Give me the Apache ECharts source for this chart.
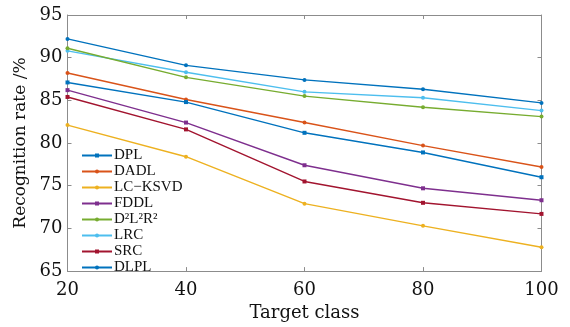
<!DOCTYPE html>
<html><head><meta charset="utf-8">
<script src="https://cdn.jsdelivr.net/npm/echarts@6/dist/echarts.min.js"></script>
<style>html,body{margin:0;padding:0;background:#fff}#c{width:570px;height:327px}</style>
</head><body><div id="c"></div>
<script>
const categories = [20, 40, 60, 80, 100];
const seriesNames = ['DPL', 'DADL', 'LC\u2212KSVD', 'FDDL', 'D\u00b2L\u00b2R\u00b2', 'LRC', 'SRC', 'DLPL'];
const DPL   = [87.1, 84.8, 81.2, 78.9, 76.0];
const DADL  = [88.2, 85.1, 82.4, 79.7, 77.2];
const LCKSVD= [82.1, 78.4, 72.9, 70.3, 67.8];
const FDDL  = [86.2, 82.4, 77.4, 74.7, 73.3];
const D2L2R2= [91.1, 87.7, 85.5, 84.2, 83.1];
const LRC   = [90.8, 88.3, 86.0, 85.3, 83.8];
const SRC   = [85.4, 81.6, 75.5, 73.0, 71.7];
const DLPL  = [92.2, 89.1, 87.4, 86.3, 84.7];
const seriesData = [DPL, DADL, LCKSVD, FDDL, D2L2R2, LRC, SRC, DLPL];
const colors = ['#0072BD', '#D95319', '#EDB120', '#7E2F8E', '#77AC30', '#4DBEEE', '#A2142F', '#0072BD'];
const symbols = ['rect', 'circle', 'circle', 'rect', 'circle', 'circle', 'rect', 'circle'];
const yTicks = [65, 70, 75, 80, 85, 90, 95];

const font = '"Liberation Serif", "DejaVu Serif", serif';
const wide = '"DejaVu Serif", serif';
const chart = echarts.init(document.getElementById('c'));
const axisLineStyle = {color: '#8c8c8c', width: 1};
chart.setOption({
  animation: false,
  color: colors,
  grid: {left: 67.5, right: 28.5, top: 15, bottom: 52.5, containLabel: false},
  legend: {
    data: seriesNames,
    orient: 'vertical',
    left: 76, top: 143,
    itemWidth: 30, itemHeight: 5, itemGap: 1,
    textStyle: {fontFamily: font, fontSize: 15, color: '#111', padding: [0,0,0,-3]}
  },
  xAxis: [{
    type: 'value', min: 20, max: 100, interval: 20,
    name: 'Target class', nameLocation: 'middle', nameGap: 28,
    nameTextStyle: {fontFamily: wide, fontSize: 18, color: '#111'},
    axisLine: {show: true, lineStyle: axisLineStyle},
    axisTick: {show: true, inside: true, length: 4, lineStyle: axisLineStyle},
    axisLabel: {fontFamily: wide, fontSize: 18, color: '#111', margin: 10},
    splitLine: {show: false}
  }, {
    type: 'value', min: 20, max: 100, interval: 20, position: 'top',
    axisLine: {show: true, lineStyle: axisLineStyle},
    axisTick: {show: true, inside: true, length: 4, lineStyle: axisLineStyle},
    axisLabel: {show: false}, splitLine: {show: false}
  }],
  yAxis: [{
    type: 'value', min: yTicks[0], max: yTicks[yTicks.length-1], interval: 5,
    name: 'Recognition rate /%', nameLocation: 'middle', nameGap: 34,
    nameTextStyle: {fontFamily: wide, fontSize: 17, color: '#111'},
    axisLine: {show: true, lineStyle: axisLineStyle},
    axisTick: {show: true, inside: true, length: 4, lineStyle: axisLineStyle},
    axisLabel: {fontFamily: wide, fontSize: 18, color: '#111', margin: 5},
    splitLine: {show: false}
  }, {
    type: 'value', min: yTicks[0], max: yTicks[yTicks.length-1], interval: 5, position: 'right',
    axisLine: {show: true, lineStyle: axisLineStyle},
    axisTick: {show: true, inside: true, length: 4, lineStyle: axisLineStyle},
    axisLabel: {show: false}, splitLine: {show: false}
  }],
  series: seriesNames.map((n, i) => ({
    name: n, type: 'line',
    data: categories.map((c, j) => [c, seriesData[i][j]]),
    symbol: symbols[i], symbolSize: 4,
    lineStyle: {width: 1.4, color: colors[i]},
    itemStyle: {color: colors[i]},
    z: 10 - i
  }))
});
</script></body></html>
